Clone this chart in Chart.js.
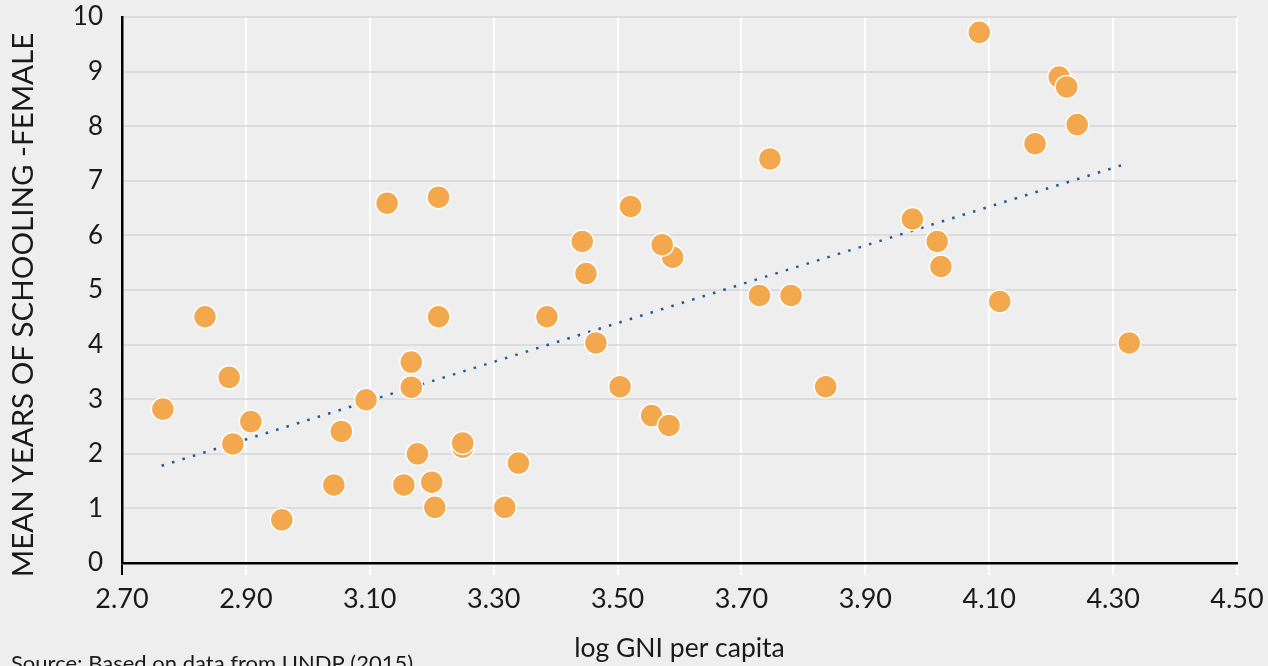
<!DOCTYPE html>
<html>
<head>
<meta charset="utf-8">
<script src="https://cdn.jsdelivr.net/npm/chart.js@4"></script>
<style>
  html, body { margin: 0; padding: 0; background: #eeeeee; }
  #wrap { width: 1268px; height: 666px; position: relative; }
</style>
</head>
<body>
<div id="wrap"><canvas id="myChart" width="1268" height="666"></canvas></div>
<script>
// log GNI per capita
var gniValues = [
    2.766, 2.834, 2.873, 2.879, 2.908, 2.958, 3.042, 3.054, 3.094, 3.128,
    3.155, 3.167, 3.167, 3.177, 3.200, 3.205, 3.211, 3.211, 3.250, 3.250,
    3.318, 3.340, 3.386, 3.443, 3.449, 3.465, 3.504, 3.521, 3.555, 3.589,
    3.572, 3.583, 3.729, 3.746, 3.780, 3.836, 3.976, 4.016, 4.022, 4.084,
    4.117, 4.174, 4.213, 4.225, 4.242, 4.326
];
// mean years of schooling - female
var schoolingValues = [
    2.82, 4.51, 3.40, 2.18, 2.59, 0.79, 1.43, 2.41, 2.99, 6.59,
    1.43, 3.68, 3.22, 2.00, 1.48, 1.02, 6.70, 4.51, 2.12, 2.20,
    1.02, 1.83, 4.51, 5.89, 5.30, 4.03, 3.23, 6.53, 2.70, 5.60,
    5.83, 2.52, 4.90, 7.40, 4.90, 3.23, 6.30, 5.89, 5.43, 9.72,
    4.79, 7.68, 8.90, 8.72, 8.03, 4.03
];
// trendline ends
var trendX = [2.764, 4.318];
var trendY = [1.78, 7.30];

var xTicks = [2.7, 2.9, 3.1, 3.3, 3.5, 3.7, 3.9, 4.1, 4.3, 4.5];
var yTicks = [0, 1, 2, 3, 4, 5, 6, 7, 8, 9, 10];

var yTitle = "MEAN YEARS OF SCHOOLING -FEMALE";
var xTitle = "log GNI per capita";
var sourceText = "Source: Based on data from UNDP (2015)";

var points = gniValues.map(function (x, i) { return { x: x, y: schoolingValues[i] }; });
var trend = trendX.map(function (x, i) { return { x: x, y: trendY[i] }; });

Chart.defaults.font.family = "Lato, 'Noto Sans', sans-serif";
Chart.defaults.color = "#1a1a1a";

// y title and source note drawn by hand so they sit where the original has them
var textPlugin = {
    id: "extraText",
    afterDraw: function (chart) {
        var ctx = chart.ctx;
        ctx.save();
        ctx.fillStyle = "#1a1a1a";
        ctx.font = "22px Lato, sans-serif";
        ctx.textBaseline = "alphabetic";
        ctx.textAlign = "left";
        ctx.fillText(sourceText, 11, 671);

        ctx.translate(23, 305);
        ctx.rotate(-Math.PI / 2);
        ctx.font = "29.5px Lato, sans-serif";
        ctx.textAlign = "center";
        ctx.textBaseline = "middle";
        ctx.fillText(yTitle, 0, 0);
        ctx.restore();
    }
};

var bgPlugin = {
    id: "bg",
    beforeDraw: function (chart) {
        var ctx = chart.ctx;
        ctx.save();
        ctx.fillStyle = "#eeeeee";
        ctx.fillRect(0, 0, chart.width, chart.height);
        ctx.restore();
    }
};

new Chart("myChart", {
    type: "scatter",
    data: {
        datasets: [{
            label: "Countries",
            data: points,
            backgroundColor: "#f4a84d",
            borderColor: "#ffffff",
            borderWidth: 1.5,
            pointRadius: 11.5,
            pointHoverRadius: 11.5,
            order: 0
        }, {
            type: "line",
            label: "Trend",
            data: trend,
            borderColor: "#1d5c96",
            borderWidth: 2.5,
            borderDash: [2.5, 8.4],
            pointRadius: 0,
            fill: false,
            order: 1
        }]
    },
    options: {
        responsive: false,
        animation: false,
        events: [],
        layout: { padding: { left: 0, right: 31, top: 17, bottom: 0 } },
        plugins: {
            legend: { display: false },
            tooltip: { enabled: false }
        },
        scales: {
            x: {
                type: "linear",
                min: 2.7,
                max: 4.5,
                afterBuildTicks: function (axis) {
                    axis.ticks = xTicks.map(function (v) { return { value: v }; });
                },
                afterFit: function (axis) {
                    axis.height = 103;
                    axis.paddingLeft = 0;
                    axis.paddingRight = 0;
                },
                grid: {
                    color: function (c) { return c.index === 0 ? "#000000" : "#ffffff"; },
                    lineWidth: 2,
                    drawTicks: true,
                    tickLength: 12
                },
                border: { display: true, color: "#000000", width: 2.5 },
                ticks: {
                    padding: 8,
                    font: { size: 27 },
                    color: "#1a1a1a",
                    callback: function (v) { return Number(v).toFixed(2); }
                },
                title: {
                    display: true,
                    text: xTitle,
                    font: { size: 26.5 },
                    color: "#1a1a1a",
                    padding: { top: 0, bottom: 2 }
                }
            },
            y: {
                min: 0,
                max: 10,
                afterBuildTicks: function (axis) {
                    axis.ticks = yTicks.map(function (v) { return { value: v }; });
                },
                afterFit: function (axis) {
                    axis.width = 122;
                    axis.paddingTop = 0;
                    axis.paddingBottom = 0;
                },
                grid: {
                    color: "#dcdcdc",
                    lineWidth: 2,
                    drawTicks: false
                },
                border: { display: true, color: "#000000", width: 2.5 },
                ticks: {
                    padding: 19,
                    font: { size: 26 },
                    color: "#1a1a1a"
                },
                title: { display: false }
            }
        }
    },
    plugins: [bgPlugin, textPlugin]
});
</script>
</body>
</html>
